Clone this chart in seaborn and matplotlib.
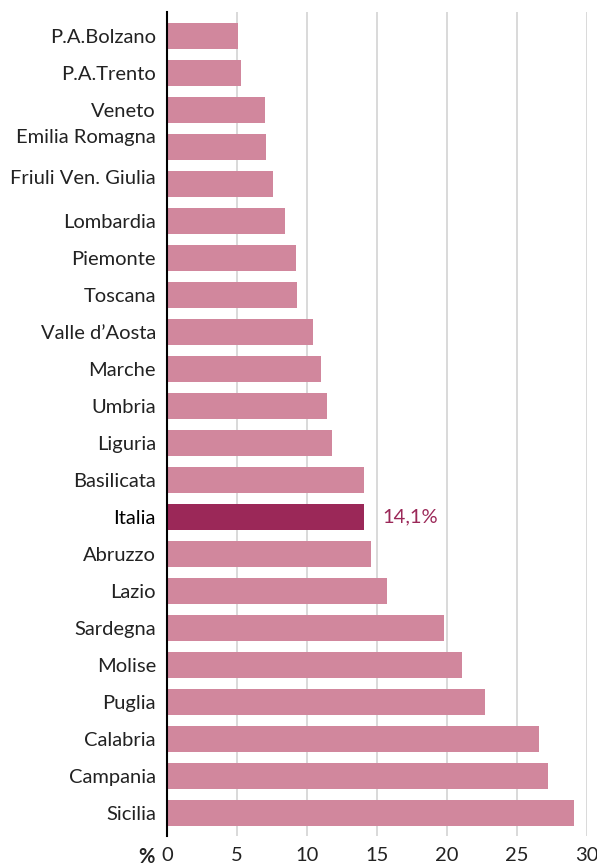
import matplotlib
matplotlib.use("Agg")
import matplotlib.pyplot as plt
import matplotlib.transforms as mtransforms
import seaborn as sns
import pandas as pd

# data (%)
regions = ["P.A.Bolzano", "P.A.Trento", "Veneto", "Emilia Romagna", "Friuli Ven. Giulia",
           "Lombardia", "Piemonte", "Toscana", "Valle d\u2019Aosta", "Marche", "Umbria",
           "Liguria", "Basilicata", "Italia", "Abruzzo", "Lazio", "Sardegna", "Molise",
           "Puglia", "Calabria", "Campania", "Sicilia"]
values = [5.1, 5.3, 7.0, 7.1, 7.6, 8.4, 9.2, 9.3, 10.4, 11.0, 11.4, 11.8,
          14.1, 14.1, 14.6, 15.7, 19.8, 21.1, 22.7, 26.6, 27.2, 29.1]
x_ticks = [0, 5, 10, 15, 20, 25, 30]

PINK = "#d1879d"
DARK = "#9b2858"
TEXT = "#222222"
FS = 14.5

df = pd.DataFrame({"region": regions, "value": values})
palette = {r: (DARK if r == "Italia" else PINK) for r in regions}

sns.set_theme(style="white")
plt.rcParams["font.family"] = ["Lato", "DejaVu Sans"]

fig = plt.figure(figsize=(5.97, 8.65), dpi=100)
ax = fig.add_axes([167 / 597, 1 - 836 / 865, 420 / 597, 824 / 865])

sns.barplot(data=df, x="value", y="region", hue="region", palette=palette,
            order=regions, orient="h", width=0.70, legend=False, ax=ax,
            saturation=1, edgecolor="none")

ax.set_xlim(0, 30)
ax.set_ylim(21.62, -0.65)
ax.set_xticks(x_ticks)
ax.set_xticklabels([str(t) for t in x_ticks])
ax.grid(axis="x", color="#d9d9d9", linewidth=1.4)
ax.set_axisbelow(True)
ax.set_xlabel("")
ax.set_ylabel("")

for s in ["top", "right", "bottom"]:
    ax.spines[s].set_visible(False)
ax.spines["left"].set_color("black")
ax.spines["left"].set_linewidth(1.5)

ax.tick_params(axis="both", length=0, labelsize=FS, colors=TEXT)
ax.tick_params(axis="y", pad=8)
ax.tick_params(axis="x", pad=8)

# nudge a couple of labels up, as in the reference
for lab in ax.get_yticklabels():
    txt = lab.get_text()
    if txt == "Emilia Romagna":
        lab.set_transform(lab.get_transform() + mtransforms.ScaledTranslation(0, 11 / 100, fig.dpi_scale_trans))
    elif txt == "Friuli Ven. Giulia":
        lab.set_transform(lab.get_transform() + mtransforms.ScaledTranslation(0, 7 / 100, fig.dpi_scale_trans))
    if txt == "Italia":
        lab.set_color("black")

# value label for Italia
i_it = regions.index("Italia")
ax.text(values[i_it] + 1.3, i_it, "14,1%", color=DARK, fontsize=FS, va="center", ha="left")

# percent sign beside the 0 tick
pct_tr = mtransforms.blended_transform_factory(ax.transData, ax.transAxes)
ax.text(-0.9, -11 / 824, "%", transform=pct_tr,
        fontsize=FS, fontweight="bold", color=TEXT, ha="right", va="top")

fig.savefig("out.png", dpi=100)
